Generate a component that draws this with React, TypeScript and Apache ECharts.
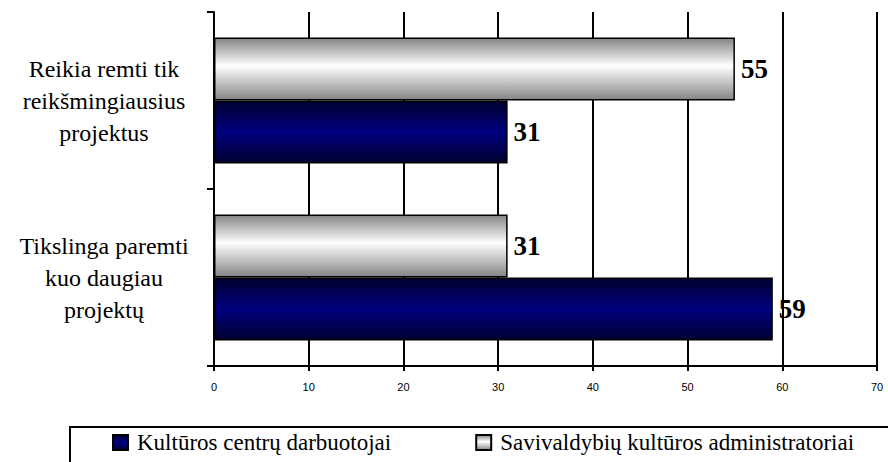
import React, { useEffect, useRef } from "react";
import * as echarts from "echarts";

const categories = [
  "Tikslinga paremti\nkuo daugiau\nprojektų",
  "Reikia remti tik\nreikšmingiausius\nprojektus",
];
const seriesNames = ["Kultūros centrų darbuotojai", "Savivaldybių kultūros administratoriai"];
const kulturosCentru = [59, 31];
const savivaldybiu = [31, 55];
const xTicks = { min: 0, max: 70, interval: 10 };

const SERIF = "'Liberation Serif', 'Times New Roman', serif";

export default function App() {
  const ref = useRef<HTMLDivElement>(null);
  useEffect(() => {
    if (!ref.current) return;
    const chart = echarts.init(ref.current, undefined, { renderer: "svg" });
    const blue = new echarts.graphic.LinearGradient(0, 0, 0, 1, [
      { offset: 0, color: "#00002e" },
      { offset: 0.5, color: "#000080" },
      { offset: 1, color: "#00002e" },
    ]);
    const white = new echarts.graphic.LinearGradient(0, 0, 0, 1, [
      { offset: 0, color: "#858585" },
      { offset: 0.45, color: "#ffffff" },
      { offset: 1, color: "#858585" },
    ]);
    const label = {
      show: true,
      position: "right" as const,
      distance: 6,
      fontFamily: SERIF,
      fontWeight: "bold" as const,
      fontSize: 27,
      color: "#000",
    };
    chart.setOption({
      animation: false,
      grid: { left: 214, right: 11, top: 12, bottom: 96 },
      xAxis: {
        type: "value",
        min: xTicks.min,
        max: xTicks.max,
        interval: xTicks.interval,
        axisLine: { show: true, lineStyle: { color: "#000", width: 2 } },
        axisTick: { show: true, length: 5, lineStyle: { color: "#000", width: 2 } },
        splitLine: { show: true, lineStyle: { color: "#000", width: 2 } },
        axisLabel: { color: "#000", fontFamily: "'Liberation Sans', Arial, sans-serif", fontSize: 11, margin: 15 },
      },
      yAxis: {
        type: "category",
        data: categories,
        axisLine: { show: true, lineStyle: { color: "#000", width: 2 } },
        axisTick: { show: true, length: 7, lineStyle: { color: "#000", width: 2 } },
        axisLabel: {
          color: "#000",
          fontFamily: SERIF,
          fontSize: 24,
          lineHeight: 32,
          align: "center",
          margin: 110,
        },
      },
      legend: {
        data: seriesNames,
        left: 112,
        top: 431,
        padding: 0,
        itemWidth: 15,
        itemHeight: 15,
        itemGap: 84,
        icon: "rect",
        textStyle: { color: "#000", fontFamily: SERIF, fontSize: 23, padding: [0, 0, 0, 4] },
      },
      graphic: [
        {
          type: "rect",
          shape: { x: 70, y: 427, width: 900, height: 100 },
          style: { fill: "none", stroke: "#000", lineWidth: 2 },
        },
      ],
      series: [
        {
          name: seriesNames[1],
          type: "bar",
          data: savivaldybiu,
          barWidth: 63,
          barGap: "0%",
          itemStyle: { color: white, borderColor: "#000", borderWidth: 1.5 },
          label,
        },
        {
          name: seriesNames[0],
          type: "bar",
          data: kulturosCentru,
          barWidth: 63,
          barGap: "0%",
          itemStyle: { color: blue, borderColor: "#000", borderWidth: 1.5 },
          label,
        },
      ],
    });
    return () => chart.dispose();
  }, []);
  return <div ref={ref} style={{ width: 888, height: 462, position: "absolute", left: 0, top: 0 }} />;
}
